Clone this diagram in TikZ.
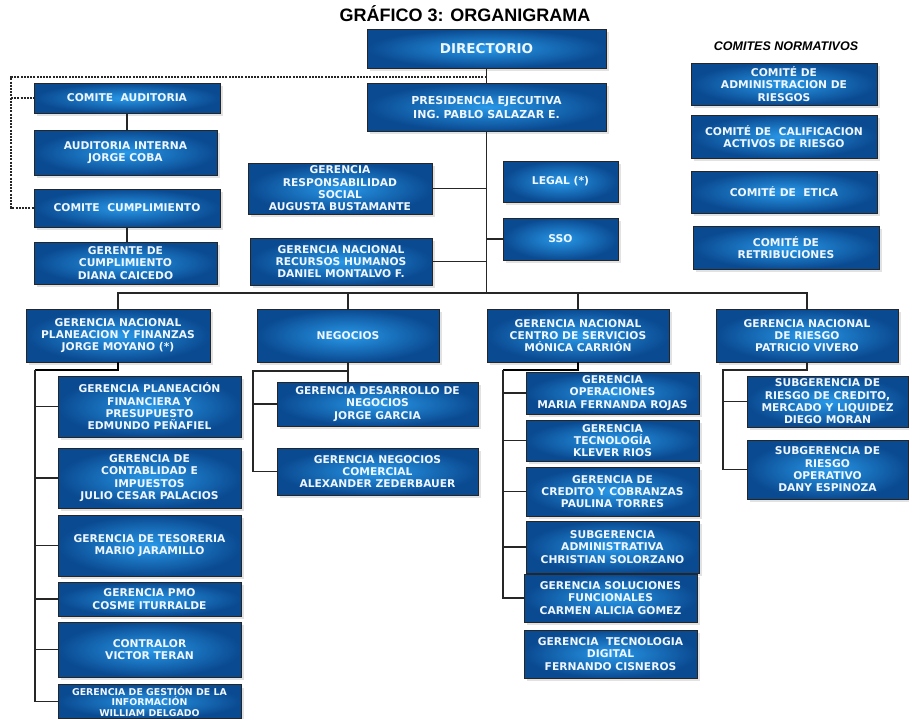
\documentclass[tikz,border=0pt]{standalone}
\usepackage{fontspec}
\setmainfont{Liberation Sans}
\newfontfamily\verd{DejaVu Sans}
\usetikzlibrary{shadows}

\definecolor{azulclaro}{RGB}{40,152,232}
\definecolor{azuloscuro}{RGB}{10,74,145}
\definecolor{textocaja}{RGB}{238,246,255}

\begin{document}
\begin{tikzpicture}[x=1pt, y=-1pt,
  caja/.style = {draw=black!85, line width=0.9pt, align=center, inner sep=1pt,
    inner color=azulclaro, outer color=azuloscuro, text=textocaja,
    font=\verd\bfseries\fontsize{10.7}{12.3}\selectfont,
    drop shadow={shadow xshift=3pt, shadow yshift=-3pt, fill=black!22}},
  tam/.style 2 args = {minimum width=#1pt, minimum height=#2pt},
  grande/.style = {font=\verd\bfseries\fontsize{11}{14}\selectfont},
  linea/.style = {draw=black!85, line width=1.4pt},
  gruesa/.style = {draw=black, line width=2.2pt},
  enlace/.style = {draw=black!85, line width=1.3pt, dash pattern=on 2pt off 1.2pt}]

  \path[fill=white, use as bounding box] (0,0) rectangle (909,718);

  \node[anchor=base, font=\bfseries\fontsize{18}{20}\selectfont] (titulo) at (465,21) {GRÁFICO 3: ORGANIGRAMA};
  \node[anchor=base, font=\bfseries\itshape\fontsize{12.5}{14}\selectfont] (normativos) at (786,50) {COMITES NORMATIVOS};

  % cabeza
  \node[caja, tam={239}{39}, font=\verd\bfseries\fontsize{13.5}{15}\selectfont] (dir) at (486.5,48.5) {DIRECTORIO};
  \node[caja, grande, tam={239}{48}] (pres) at (486.5,107) {PRESIDENCIA EJECUTIVA\\ING. PABLO SALAZAR E.};

  % comites y staff
  \node[caja, tam={186}{30}] (caud) at (127,98) {COMITE~ AUDITORIA};
  \node[caja, tam={183}{45}] (aint) at (125.5,152.5) {AUDITORIA INTERNA\\JORGE COBA};
  \node[caja, tam={186}{38}] (ccum) at (127,208) {COMITE~ CUMPLIMIENTO};
  \node[caja, tam={183}{42}] (gcum) at (125.5,263) {GERENTE DE\\CUMPLIMIENTO\\DIANA CAICEDO};
  \node[caja, tam={184}{51}] (grs) at (340,188.5) {GERENCIA\\RESPONSABILIDAD\\SOCIAL\\AUGUSTA BUSTAMANTE};
  \node[caja, tam={182}{47}] (grh) at (341,261.5) {GERENCIA NACIONAL\\RECURSOS HUMANOS\\DANIEL MONTALVO F.};
  \node[caja, tam={115}{41}] (legal) at (560.5,181.5) {LEGAL (*)};
  \node[caja, tam={115}{42}] (sso) at (560.5,239) {SSO};

  \node[caja, tam={186}{42}] (cn1) at (784,84) {COMITÉ DE\\ADMINISTRACION DE\\RIESGOS};
  \node[caja, tam={186}{43}] (cn2) at (784,136.5) {COMITÉ DE~ CALIFICACION\\ACTIVOS DE RIESGO};
  \node[caja, tam={186}{42}] (cn3) at (784,192) {COMITÉ DE~ ETICA};
  \node[caja, tam={186}{43}] (cn4) at (786,247.5) {COMITÉ DE\\RETRIBUCIONES};

  % gerencias nacionales
  \node[caja, tam={184}{53}] (gpf) at (118,335.5) {GERENCIA NACIONAL\\PLANEACION Y FINANZAS\\JORGE MOYANO (*)};
  \node[caja, tam={182}{53}] (neg) at (348,335.5) {NEGOCIOS};
  \node[caja, tam={182}{53}] (gcs) at (578,335.5) {GERENCIA NACIONAL\\CENTRO DE SERVICIOS\\MÓNICA CARRIÓN};
  \node[caja, tam={182}{53}] (gri) at (807,335.5) {GERENCIA NACIONAL\\DE RIESGO\\PATRICIO VIVERO};

  \node[caja, tam={183}{61}] (p1) at (149.5,406.5) {GERENCIA PLANEACIÓN\\FINANCIERA Y\\PRESUPUESTO\\EDMUNDO PEÑAFIEL};
  \node[caja, tam={183}{60}] (p2) at (149.5,478) {GERENCIA DE\\CONTABLIDAD E\\IMPUESTOS\\JULIO CESAR PALACIOS};
  \node[caja, tam={183}{61}] (p3) at (149.5,545.5) {GERENCIA DE TESORERIA\\MARIO JARAMILLO};
  \node[caja, tam={183}{34}] (p4) at (149.5,599) {GERENCIA PMO\\COSME ITURRALDE};
  \node[caja, tam={183}{55}] (p5) at (149.5,649.5) {CONTRALOR\\VICTOR TERAN};
  \node[caja, tam={183}{34}, font=\verd\bfseries\fontsize{9.4}{10.2}\selectfont] (p6) at (149.5,701.5) {GERENCIA DE GESTIÓN DE LA\\INFORMACIÓN\\WILLIAM DELGADO};

  \node[caja, tam={201}{44}] (n1) at (377.5,404) {GERENCIA DESARROLLO DE\\NEGOCIOS\\JORGE GARCIA};
  \node[caja, tam={201}{47}] (n2) at (377.5,471.5) {GERENCIA NEGOCIOS\\COMERCIAL\\ALEXANDER ZEDERBAUER};

  \node[caja, tam={173}{42}] (c1) at (612.5,393) {GERENCIA\\OPERACIONES\\MARIA FERNANDA ROJAS};
  \node[caja, tam={173}{41}] (c2) at (612.5,440.5) {GERENCIA\\TECNOLOGÍA\\KLEVER RIOS};
  \node[caja, tam={173}{49}] (c3) at (612.5,491.5) {GERENCIA DE\\CREDITO Y COBRANZAS\\PAULINA TORRES};
  \node[caja, tam={173}{52}] (c4) at (612.5,547) {SUBGERENCIA\\ADMINISTRATIVA\\CHRISTIAN SOLORZANO};
  \node[caja, tam={173}{48}] (c5) at (610.5,598) {GERENCIA SOLUCIONES\\FUNCIONALES\\CARMEN ALICIA GOMEZ};
  \node[caja, tam={173}{48}] (c6) at (610.5,654) {GERENCIA~ TECNOLOGIA\\DIGITAL\\FERNANDO CISNEROS};

  \node[caja, tam={161}{51}] (r1) at (827.5,401.5) {SUBGERENCIA DE\\RIESGO DE CREDITO,\\MERCADO Y LIQUIDEZ\\DIEGO MORAN};
  \node[caja, tam={161}{59}] (r2) at (827.5,469.5) {SUBGERENCIA DE\\RIESGO\\OPERATIVO\\DANY ESPINOZA};

  % conectores
  \coordinate (bus) at (486.5,293);
  \coordinate (esq) at (11,77);
  \coordinate (pl) at (35,370);
  \coordinate (ng) at (253,371);
  \coordinate (cs) at (503,370);
  \coordinate (rg) at (723,370);

  \draw[linea] (dir) -- (pres);
  \draw[linea] (pres.south) -- (bus);
  \draw[enlace] (esq -| dir.south) -- (esq) |- (ccum.west);
  \draw[enlace] (esq |- caud.west) -- (caud.west);
  \draw[linea] (caud.south) -- (caud.south |- aint.north);
  \draw[linea] (ccum.south) -- (ccum.south |- gcum.north);
  \foreach \n/\lado in {grs/east, grh/east, sso/west}
    \draw[linea] (\n.\lado) -- (\n.\lado -| bus);

  \draw[linea] (gpf.north) -- (gpf.north |- bus) -- (gri.north |- bus) -- (gri.north);
  \foreach \n in {neg, gcs}
    \draw[linea] (\n.north) -- (\n.north |- bus);

  \draw[gruesa] (gpf.south) |- (pl);
  \draw[linea] (pl) |- (p6.west);
  \foreach \n in {p1, p2, p3, p4, p5}
    \draw[linea] (pl |- \n.west) -- (\n.west);

  \draw[linea] (neg.south) -- (neg.south |- n1.north);
  \draw[linea] (ng -| neg.south) -- (ng) |- (n2.west);
  \draw[linea] (ng |- n1.west) -- (n1.west);

  \draw[gruesa] (gcs.south) |- (cs);
  \draw[linea] (cs) |- (c5.west);
  \foreach \n in {c1, c2, c3, c4}
    \draw[linea] (cs |- \n.west) -- (\n.west);

  \draw[linea] (gri.south) |- (rg) |- (r2.west);
  \draw[linea] (rg |- r1.west) -- (r1.west);
\end{tikzpicture}
\end{document}
